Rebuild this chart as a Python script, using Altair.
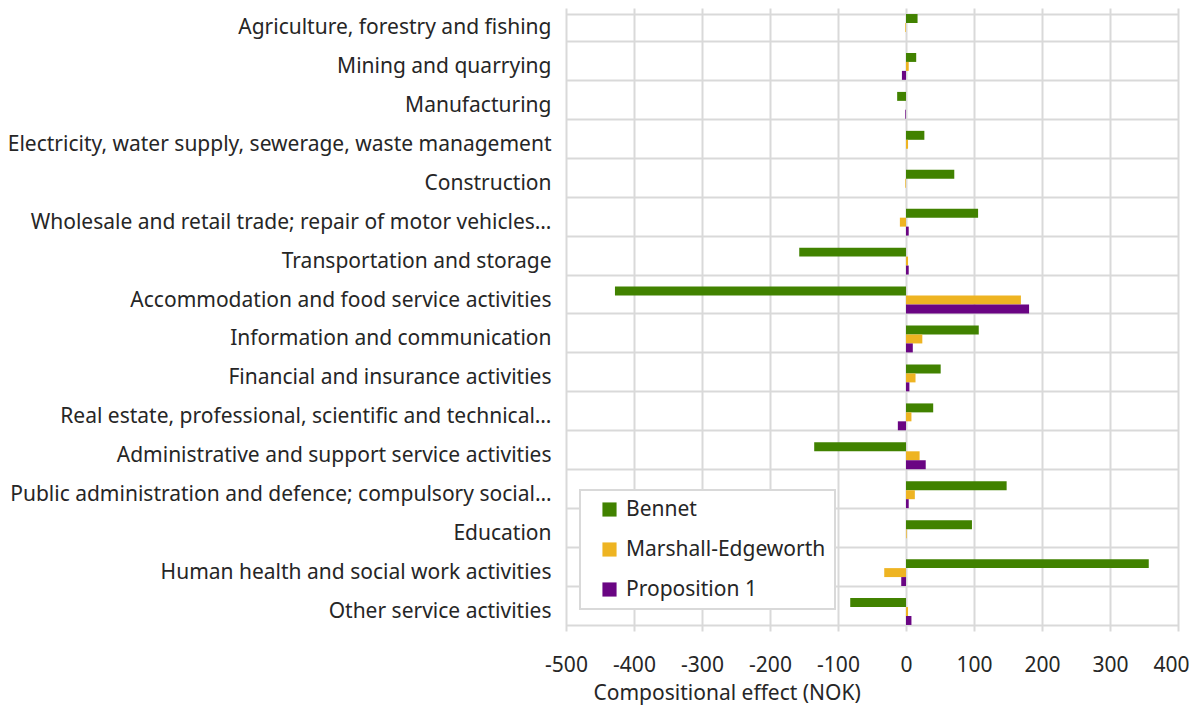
import altair as alt
import pandas as pd

categories = [
    "Agriculture, forestry and fishing",
    "Mining and quarrying",
    "Manufacturing",
    "Electricity, water supply, sewerage, waste management",
    "Construction",
    "Wholesale and retail trade; repair of motor vehicles…",
    "Transportation and storage",
    "Accommodation and food service activities",
    "Information and communication",
    "Financial and insurance activities",
    "Real estate, professional, scientific and technical…",
    "Administrative and support service activities",
    "Public administration and defence; compulsory social…",
    "Education",
    "Human health and social work activities",
    "Other service activities",
]
series = ["Bennet", "Marshall-Edgeworth", "Proposition 1"]
bennet = [17, 15, -13, 27, 71, 106, -157, -428, 107, 51, 40, -135, 148, 97, 357, -82]
marshall = [-1, 4, 0, 3, -1, -9, 3, 169, 24, 14, 8, 20, 13, 1, -32, 3]
prop1 = [0, -6, -1, 0, 0, 4, 4, 181, 10, 5, -12, 29, 4, 0, -7, 8]
colors = ["#418200", "#EEB422", "#6A0583"]
x_ticks = [-500, -400, -300, -200, -100, 0, 100, 200, 300, 400]

rows = []
for name, vals in zip(series, [bennet, marshall, prop1]):
    for c, v in zip(categories, vals):
        rows.append({"category": c, "series": name, "value": v})
df = pd.DataFrame(rows)

FONT = "Noto Sans"
TXT = "#262626"
FS = 21

chart = alt.Chart(df).mark_bar().encode(
    y=alt.Y("category:N", sort=categories, title=None,
            scale=alt.Scale(paddingInner=0.31, paddingOuter=0.155),
            axis=alt.Axis(tickBand="extent", grid=True, gridColor="#d9d9d9", gridWidth=2,
                          ticks=False, domain=False, labelFontSize=FS, labelFont=FONT,
                          labelColor=TXT, labelPadding=15, labelLimit=700)),
    yOffset=alt.YOffset("series:N", sort=series, scale=alt.Scale(paddingInner=0, paddingOuter=0)),
    x=alt.X("value:Q", title="Compositional effect (NOK)",
            scale=alt.Scale(domain=[-500, 400], nice=False, zero=False),
            axis=alt.Axis(values=x_ticks, labelExpr="'' + datum.value", labelFlush=False,
                          labelAlign={"condition": {"test": "datum.value == 400", "value": "right"},
                                      "value": "center"},
                          labelOffset={"condition": {"test": "datum.value == 400", "value": 11},
                                       "value": 0},
                          grid=True, gridColor="#d9d9d9", gridWidth=2,
                          ticks=False, domain=False, labelFontSize=FS, labelFont=FONT,
                          labelColor=TXT, labelPadding=23, titleFontSize=FS, titleFont=FONT,
                          titleColor=TXT, titleFontWeight="normal", titlePadding=7,
                          titleAnchor="start", titleX=27, titleAlign="left")),
    color=alt.Color("series:N", sort=series,
                    scale=alt.Scale(domain=series, range=colors),
                    legend=alt.Legend(title=None, orient="none", legendX=14, legendY=482,
                                      fillColor="white", strokeColor="#d9d9d9",
                                      padding=9, symbolOffset=10, symbolType="square",
                                      symbolSize=200, symbolStrokeWidth=0,
                                      labelFontSize=FS, labelFont=FONT,
                                      labelColor=TXT, rowPadding=18, labelOffset=6,
                                      labelLimit=400)),
).properties(
    width=612, height=623,
    autosize=alt.AutoSizeParams(type="none"),
    padding={"left": 558, "top": 0, "right": 11, "bottom": 77},
).configure_view(stroke=None).configure_legend(strokeWidth=2)

chart.save("out.html", embed_options={"renderer": "svg", "actions": False})
